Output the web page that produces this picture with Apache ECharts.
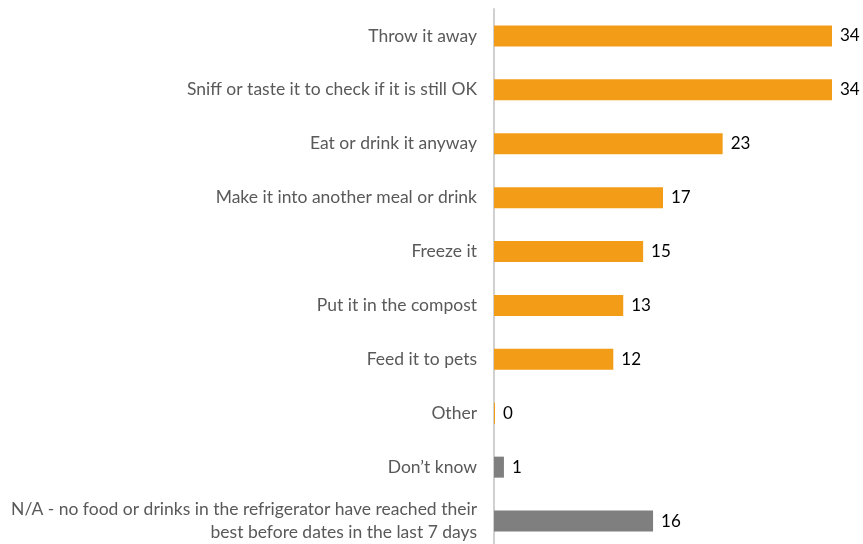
<!DOCTYPE html>
<html>
<head>
<meta charset="utf-8">
<script src="https://cdn.jsdelivr.net/npm/echarts@6/dist/echarts.min.js"></script>
<style>
  html, body { margin: 0; padding: 0; background: #fff; overflow: hidden; }
  #chart { width: 863px; height: 550px; }
</style>
</head>
<body>
<div id="chart"></div>
<script>
// Responses: what people do with food past its best-before date
var categories = [
  'Throw it away',
  'Sniff or taste it to check if it is still OK',
  'Eat or drink it anyway',
  'Make it into another meal or drink',
  'Freeze it',
  'Put it in the compost',
  'Feed it to pets',
  'Other',
  'Don\u2019t know',
  'N/A - no food or drinks in the refrigerator have reached their\nbest before dates in the last 7 days'
];
var values = [34, 34, 23, 17, 15, 13, 12, 0, 1, 16];
var barColors = ['#F39C17', '#F39C17', '#F39C17', '#F39C17', '#F39C17', '#F39C17', '#F39C17', '#F39C17', '#7F7F7F', '#7F7F7F'];

var FONT = 'Lato';

var chart = echarts.init(document.getElementById('chart'), null, { renderer: 'canvas' });
chart.setOption({
  animation: false,
  backgroundColor: '#ffffff',
  grid: { left: 494, right: 31, top: 9, height: 539, containLabel: false },
  xAxis: {
    type: 'value',
    min: 0,
    max: 34,
    show: false
  },
  yAxis: {
    type: 'category',
    inverse: true,
    data: categories,
    axisLine: { show: true, lineStyle: { color: '#D0D0D0', width: 2 } },
    axisTick: { show: false },
    axisLabel: {
      margin: 17,
      color: '#595959',
      fontFamily: FONT,
      fontSize: 17.5,
      lineHeight: 23,
      align: 'right'
    }
  },
  series: [{
    type: 'bar',
    barWidth: 21,
    barMinHeight: 1,
    data: values.map(function (v, i) {
      return { value: v, itemStyle: { color: barColors[i] } };
    }),
    label: {
      show: true,
      position: 'right',
      distance: 8,
      color: '#000000',
      fontFamily: FONT,
      fontSize: 17
    }
  }]
});
</script>
</body>
</html>
